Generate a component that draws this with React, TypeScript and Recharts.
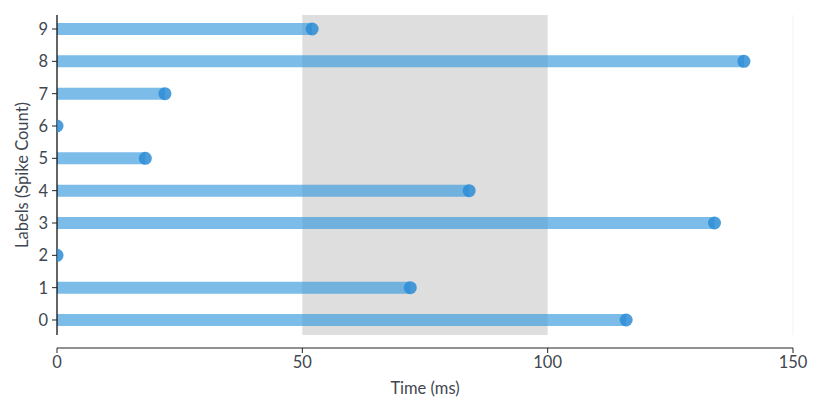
import React from 'react';
import { ComposedChart, XAxis, YAxis, Scatter, ReferenceLine, ReferenceArea, Label } from 'recharts';

const labels = [0, 1, 2, 3, 4, 5, 6, 7, 8, 9];
const spikeTimes = [116, 72, 0, 134, 84, 18, 0, 22, 140, 52];
const xTicks = [0, 50, 100, 150];
const yTicks = [0, 1, 2, 3, 4, 5, 6, 7, 8, 9];
const windowStart = 50;
const windowEnd = 100;

const points = labels.map((l, i) => ({ x: spikeTimes[i], y: l }));

const FONT = 'Lato, "Open Sans", sans-serif';
const TEXT = '#3f4750';
const FS = 16.5;

const Dot = (props: any) => {
  const { cx, cy } = props;
  if (cx == null || cy == null) return null;
  return <circle cx={cx} cy={cy} r={6.5} fill="#2d8cd6" fillOpacity={0.85} />;
};

const YLabel = () => (
  <text x={22} y={175} transform="rotate(-90 22 175)" textAnchor="middle" dominantBaseline="central" fill={TEXT} fontSize={FS} fontFamily={FONT}>
    Labels (Spike Count)
  </text>
);

export default function App() {
  return (
    <div style={{ position: 'absolute', left: 0, top: 0 }}>
      <ComposedChart
        width={822}
        height={411}
        layout="vertical"
        margin={{ top: 15, right: 29, bottom: 0, left: 17 }}
        style={{ fontFamily: FONT }}
      >
        <XAxis
          type="number"
          dataKey="x"
          domain={[0, 150]}
          ticks={xTicks}
          allowDataOverflow
          height={63}
          tickSize={5}
          tickMargin={3}
          stroke="#222"
          tick={{ fill: TEXT, fontSize: FS, fontFamily: FONT }}
        >
          <Label value="Time (ms)" position="insideBottom" offset={17} style={{ fill: TEXT, fontSize: FS, fontFamily: FONT }} />
        </XAxis>
        <YAxis
          type="number"
          dataKey="y"
          domain={[-0.866, 9.433]}
          ticks={yTicks}
          reversed
          allowDataOverflow
          width={40}
          axisLine={false}
          tickSize={5}
          tickMargin={4}
          stroke="#222"
          tick={{ fill: TEXT, fontSize: FS, fontFamily: FONT }}
        >
          <Label content={YLabel} />
        </YAxis>
        <ReferenceArea x1={windowStart} x2={windowEnd} y1={-0.464} y2={9.433} fill="#dedede" fillOpacity={1} stroke="none" />
        <ReferenceLine segment={[{ x: 150, y: -0.464 }, { x: 150, y: 9.433 }]} stroke="#f2f2f2" strokeWidth={1} />
        {points.map((p) => (
          <ReferenceLine
            key={p.y}
            segment={[{ x: 0, y: p.y }, { x: p.x, y: p.y }]}
            stroke="rgb(52,152,219)"
            strokeOpacity={0.65}
            strokeWidth={12}
          />
        ))}
        <ReferenceLine segment={[{ x: 0, y: -0.464 }, { x: 0, y: 9.433 }]} stroke="#111" strokeWidth={1.3} />
        <Scatter data={points} dataKey="x" shape={Dot} isAnimationActive={false} />
      </ComposedChart>
    </div>
  );
}
